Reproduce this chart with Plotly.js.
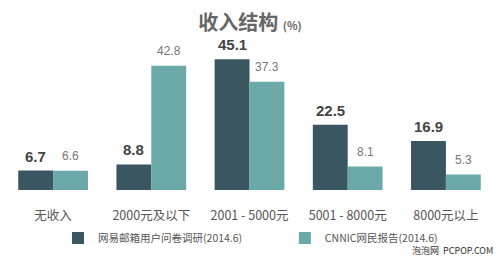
<!DOCTYPE html>
<html><head><meta charset="utf-8">
<script src="https://cdn.plot.ly/plotly-3.0.1.min.js"></script>
<style>html,body{margin:0;padding:0;background:#fff}#chart{width:500px;height:259px}</style>
</head><body><div id="chart"></div>
<script>
const categories = ["无收入", "2000元及以下", "2001 - 5000元", "5001 - 8000元", "8000元以上"];
const seriesNames = ["网易邮箱用户问卷调研(2014.6)", "CNNIC网民报告(2014.6)"];
const neteaseValues = [6.7, 8.8, 45.1, 22.5, 16.9];
const cnnicValues = [6.6, 42.8, 37.3, 8.1, 5.3];

const darkColor = "#3a5661";
const tealColor = "#6aa9a8";
const CJK = "'Noto Sans CJK SC', 'Liberation Sans', Arial, sans-serif";
const LAT = "'Liberation Sans', Arial, sans-serif";

const traces = [
  {type: "bar", name: seriesNames[0], x: categories, y: neteaseValues, marker: {color: darkColor}, hoverinfo: "none", legend: "legend"},
  {type: "bar", name: seriesNames[1], x: categories, y: cnnicValues, marker: {color: tealColor}, hoverinfo: "none", legend: "legend2"}
];

const annotations = [];
categories.forEach((c, i) => {
  annotations.push({x: c, y: neteaseValues[i], xref: "x", yref: "y", text: neteaseValues[i].toFixed(1),
    showarrow: false, yanchor: "bottom", xshift: -17.5, yshift: 4,
    font: {family: LAT, size: 15, color: "#444", weight: "bold"}});
  annotations.push({x: c, y: cnnicValues[i], xref: "x", yref: "y", text: cnnicValues[i].toFixed(1),
    showarrow: false, yanchor: "bottom", xshift: 17.5, yshift: 6,
    font: {family: LAT, size: 12, color: "#777"}});
});
annotations.push({xref: "paper", yref: "paper", x: 1.0, y: -0.405, xanchor: "right", yanchor: "middle",
  text: "泡泡网  PCPOP.COM", showarrow: false, font: {family: CJK, size: 9, color: "#333"}});

const legendBase = {orientation: "h", yanchor: "middle", y: -0.32, xanchor: "left",
  font: {family: CJK, size: 10.5, color: "#555"}, bgcolor: "rgba(0,0,0,0)", itemwidth: 30};

const layout = {
  width: 500, height: 259,
  margin: {l: 4, r: 5, t: 40, b: 69},
  paper_bgcolor: "#fff", plot_bgcolor: "#fff",
  title: {text: "收入结构 <span style='font-size:11px'>(%)</span>", x: 0.5, xanchor: "center", y: 0.91, yanchor: "middle",
    font: {family: CJK, size: 20, color: "#666", weight: "bold"}},
  barmode: "group", bargap: 0.29, bargroupgap: 0,
  xaxis: {type: "category", showline: false, showgrid: false, zeroline: false, ticks: "",
    tickfont: {family: CJK, size: 12.5, color: "#555"}, ticklabelstandoff: 16, fixedrange: true},
  yaxis: {range: [0, 51.7], visible: false, fixedrange: true},
  showlegend: true,
  legend: Object.assign({}, legendBase, {x: 0.11}),
  legend2: Object.assign({}, legendBase, {x: 0.572}),
  annotations: annotations
};

Plotly.newPlot("chart", traces, layout, {displayModeBar: false, staticPlot: true});
</script></body></html>
